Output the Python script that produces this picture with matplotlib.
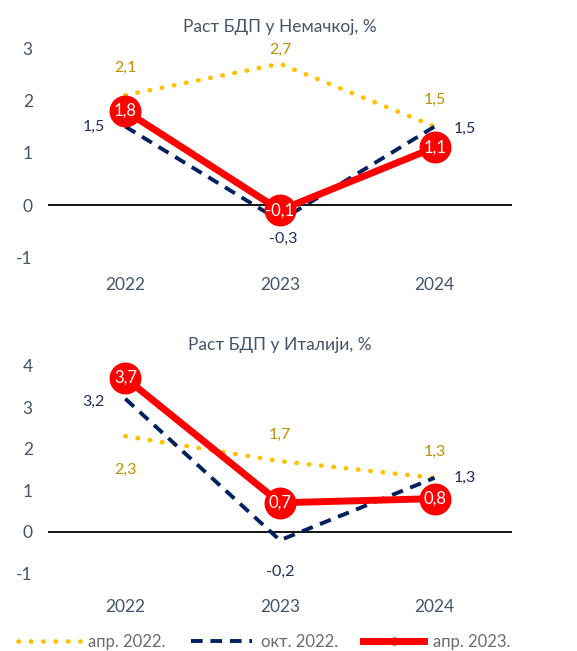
import numpy as np
import matplotlib
matplotlib.use("Agg")
import matplotlib.pyplot as plt
from matplotlib.lines import Line2D

plt.rcParams["font.family"] = ["Lato", "Open Sans", "DejaVu Sans"]

years = ["2022", "2023", "2024"]

de_apr22 = [2.1, 2.7, 1.5]
de_oct22 = [1.5, -0.3, 1.5]
de_apr23 = [1.8, -0.1, 1.1]

it_apr22 = [2.3, 1.7, 1.3]
it_oct22 = [3.2, -0.2, 1.3]
it_apr23 = [3.7, 0.7, 0.8]

series_names = ["апр. 2022.", "окт. 2022.", "апр. 2023."]
titles = ["Раст БДП у Немачкој, %", "Раст БДП у Италији, %"]

YELLOW = "#FFC000"
NAVY = "#002060"
RED = "#FF0000"
GOLD_TXT = "#BF9000"
NAVY_TXT = "#1F2D5C"
TICK = "#44546A"

DOTS = (0, (0.1, 2.6))

# label offsets in points (dx, dy) for apr22 and oct22 labels
de_off = {
    "apr22": [(0, 20), (0, 10), (0, 19)],
    "oct22": [(-23, 0), (2, -13), (22, -2)],
}
it_off = {
    "apr22": [(0, -24), (0, 19), (0, 19)],
    "oct22": [(-23, -2), (0, -23), (22, 0)],
}


def fmt(v):
    return f"{v:.1f}".replace(".", ",")


def draw(ax, apr22, oct22, apr23, offs, title, ylim, yticks, title_pad):
    x = np.arange(len(years))
    ax.axhline(0, color="black", lw=1.3, zorder=1)
    ax.plot(x, apr22, color=YELLOW, lw=3.3, linestyle=DOTS,
            dash_capstyle="round", zorder=2)
    ax.plot(x, oct22, color=NAVY, lw=2.8, linestyle=(0, (3, 2)), zorder=3)
    ax.plot(x, apr23, color=RED, lw=5, marker="o", markersize=22,
            markerfacecolor=RED, markeredgecolor=RED, zorder=4)

    for i, v in enumerate(apr22):
        ax.annotate(fmt(v), (x[i], v), xytext=offs["apr22"][i], textcoords="offset points",
                    ha="center", va="center", color=GOLD_TXT, fontsize=11.5, zorder=6)
    for i, v in enumerate(oct22):
        ax.annotate(fmt(v), (x[i], v), xytext=offs["oct22"][i], textcoords="offset points",
                    ha="center", va="center", color=NAVY_TXT, fontsize=11.5, zorder=6)
    for i, v in enumerate(apr23):
        ax.text(x[i], v, fmt(v), ha="center", va="center", color="white",
                fontsize=12, zorder=6)

    ax.set_xlim(-0.5, 2.5)
    ax.set_ylim(*ylim)
    ax.set_yticks(yticks)
    ax.set_yticklabels([str(t) for t in yticks])
    ax.set_xticks(x)
    ax.set_xticklabels(years)
    for s in ax.spines.values():
        s.set_visible(False)
    ax.tick_params(axis="y", length=0, pad=11, labelsize=12.5, labelcolor=TICK)
    ax.tick_params(axis="x", length=0, pad=5, labelsize=12.5, labelcolor=TICK)
    ax.set_title(title, fontsize=12.5, color=TICK, pad=title_pad)


fig = plt.figure(figsize=(5.77, 6.51), dpi=100)
ax1 = fig.add_axes([0.0832, 0.5846, 0.804, 0.3576])
ax2 = fig.add_axes([0.0832, 0.0902, 0.804, 0.3676])

draw(ax1, de_apr22, de_oct22, de_apr23, de_off, titles[0], (-1.25, 3.2), [-1, 0, 1, 2, 3], 4)
draw(ax2, it_apr22, it_oct22, it_apr23, it_off, titles[1], (-1.45, 4.3), [-1, 0, 1, 2, 3, 4], 2)

handles = [
    Line2D([], [], color=YELLOW, lw=3.3, linestyle=DOTS, dash_capstyle="round"),
    Line2D([], [], color=NAVY, lw=2.8, linestyle=(0, (3, 2))),
    Line2D([], [], color=RED, lw=5, marker="o", markersize=5),
]
fig.legend(handles, series_names, loc="center", bbox_to_anchor=(0.458, 0.014),
           ncol=3, frameon=False, fontsize=12, handlelength=3.7, handletextpad=0.5,
           columnspacing=1.5, labelcolor="#6B6B6B")

fig.savefig("out.png", dpi=100)
